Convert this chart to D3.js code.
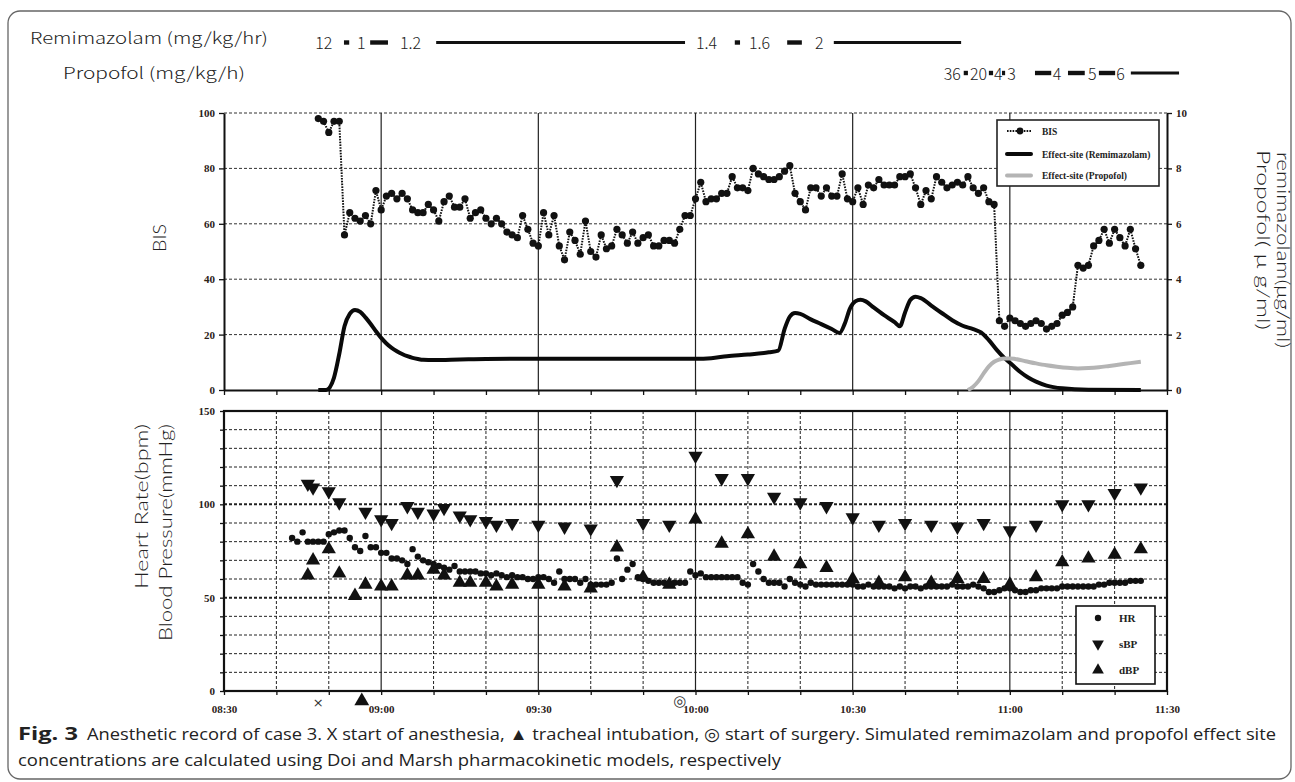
<!DOCTYPE html>
<html lang="en">
<head>
<meta charset="UTF-8">
<title>Anesthetic record of case 3</title>
<script src="https://d3js.org/d3.v7.min.js"></script>
<style>
  body { margin: 0; background: #fff; }
  svg { display: block; }
  .tick text { font-family: "Liberation Serif", "Times New Roman", serif; font-weight: bold; font-size: 11px; fill: #2b2118; }
  .axis-title { font-family: Lato, "Noto Sans", sans-serif; font-weight: 300; font-size: 18px; fill: #222; }
  .dose { font-family: "Noto Sans CJK JP", "Noto Sans", sans-serif; font-weight: 300; font-size: 16px; fill: #222; }
  .legend text { font-family: "Liberation Serif", "Times New Roman", serif; font-weight: bold; fill: #222; }
  .caption { font-family: "Open Sans", "Noto Sans", sans-serif; font-size: 17px; fill: #222; }
</style>
</head>
<body>
<svg width="1295" height="782"></svg>
<script>
// all times are minutes after 08:30
const timeLabels = ["08:30", "09:00", "09:30", "10:00", "10:30", "11:00", "11:30"];
const bisTicks = [0, 20, 40, 60, 80, 100];
const concTicks = [0, 2, 4, 6, 8, 10];
const bpLabelTicks = [0, 50, 100, 150];

// BIS, one reading per minute starting 08:48
const bisStart = 18;
const bisValues = [
  98, 97, 93, 97, 97, 56, 64, 62, 61, 63,
  60, 72, 65, 70, 71, 69, 71, 69, 65, 64,
  64, 67, 65, 61, 68, 70, 66, 66, 69, 62,
  64, 65, 62, 60, 62, 60, 57, 56, 55, 63,
  58, 53, 52, 64, 56, 63, 52, 47, 57, 54,
  49, 61, 50, 48, 56, 51, 52, 58, 56, 53,
  57, 53, 55, 56, 52, 52, 54, 54, 53, 58,
  63, 63, 69, 75, 68, 69, 69, 71, 71, 77,
  73, 73, 72, 80, 78, 77, 76, 76, 77, 79,
  81, 71, 68, 65, 73, 73, 70, 73, 70, 70,
  78, 69, 68, 73, 67, 74, 73, 76, 74, 74,
  74, 77, 77, 78, 73, 67, 72, 69, 77, 75,
  73, 74, 75, 74, 77, 73, 71, 73, 68, 67,
  25, 23, 26, 25, 24, 23, 24, 25, 24, 22,
  23, 24, 27, 28, 30, 45, 44, 45, 52, 54,
  58, 53, 58, 55, 52, 58, 51, 45
];

// simulated effect-site concentrations [minute, ug/ml]
const remiEffect = [
  [18, 0], [19.5, 0], [21, 0.45], [22, 1.3], [23, 2.3], [24, 2.75], [25, 2.89], [26, 2.82],
  [27, 2.62], [28, 2.38], [29, 2.12], [30, 1.88], [31, 1.68], [32, 1.52], [33, 1.4], [34, 1.3],
  [35, 1.22], [36, 1.16], [37, 1.12], [38, 1.09], [40, 1.08], [45, 1.1], [50, 1.12], [60, 1.13],
  [90, 1.13], [93, 1.15], [96, 1.22], [100, 1.28], [104, 1.36], [105.8, 1.42], [107, 2.2],
  [108, 2.65], [109, 2.78], [110, 2.75], [112, 2.55], [114, 2.38], [116, 2.2], [117.5, 2.06],
  [118.5, 2.4], [119.5, 2.95], [120.5, 3.2], [121.5, 3.26], [122.5, 3.2], [124, 2.98], [126, 2.7],
  [128, 2.45], [129, 2.3], [130, 2.8], [131, 3.25], [132, 3.37], [133, 3.32], [135, 3.05],
  [137, 2.78], [139, 2.52], [141, 2.32], [143, 2.2], [144.5, 2.08], [146, 1.8], [147.5, 1.45],
  [149, 1.15], [150.5, 0.9], [152, 0.65], [153.5, 0.45], [155, 0.3], [157, 0.16], [160, 0.06],
  [165, 0.01], [175, 0]
];
const propEffect = [
  [142, 0], [143, 0.12], [144, 0.32], [145, 0.6], [146, 0.85], [147, 1.02], [148, 1.1],
  [149, 1.14], [150, 1.14], [151, 1.12], [153, 1.04], [155, 0.96], [157, 0.89], [159, 0.84],
  [161, 0.8], [163, 0.78], [165, 0.79], [167, 0.82], [169, 0.87], [171, 0.92], [173, 0.97],
  [175, 1.02]
];

// heart rate, one reading per minute starting 08:43
const hrStart = 13;
const hrValues = [
  82, 80, 85, 80, 80, 80, 80, 84, 85, 86,
  86, 82, 77, 75, 83, 77, 77, 74, 74, 71,
  71, 70, 68, 76, 72, 70, 69, 68, 67, 66,
  65, 67, 64, 64, 64, 64, 63, 63, 62, 63,
  62, 61, 62, 61, 61, 60, 60, 61, 61, 60,
  58, 64, 60, 60, 60, 58, 60, 57, 57, 57,
  57, 58, 71, 60, 65, 68, 61, 60, 59, 58,
  58, 58, 57, 58, 58, 58, 64, 62, 63, 61,
  61, 61, 61, 61, 61, 61, 58, 57, 68, 64,
  60, 58, 58, 58, 56, 60, 58, 57, 56, 58,
  57, 57, 57, 57, 57, 57, 57, 57, 56, 56,
  57, 56, 56, 56, 56, 55, 56, 55, 56, 56,
  55, 56, 56, 56, 56, 56, 57, 56, 56, 56,
  57, 56, 55, 53, 53, 54, 55, 55, 54, 53,
  53, 54, 54, 55, 55, 55, 55, 56, 56, 56,
  56, 56, 56, 56, 57, 57, 58, 58, 58, 58,
  59, 59, 59
];

// blood pressure [minute, mmHg]
const sbp = [
  [16, 111], [17, 109], [20, 107], [22, 101], [27, 96], [30, 92], [32, 90], [35, 99], [37, 96],
  [40, 95], [42, 98], [45, 94], [47, 92], [50, 91], [52, 89], [55, 90], [60, 89], [65, 88],
  [70, 87], [75, 113], [80, 90], [85, 89], [90, 126], [95, 114], [100, 114], [105, 104],
  [110, 101], [115, 99], [120, 93], [125, 89], [130, 90], [135, 89], [140, 88], [145, 90],
  [150, 86], [155, 89], [160, 100], [165, 100], [170, 106], [175, 109]
];
const dbp = [
  [16, 62], [17, 70], [20, 76], [22, 63], [25, 51], [27, 57], [30, 56], [32, 56], [35, 62],
  [37, 62], [40, 65], [42, 62], [45, 58], [47, 58], [50, 58], [52, 56], [55, 57], [60, 57],
  [65, 56], [70, 55], [75, 77], [80, 61], [85, 57], [90, 92], [95, 79], [100, 84], [105, 72],
  [110, 68], [115, 66], [120, 60], [125, 58], [130, 61], [135, 58], [140, 60], [145, 60],
  [150, 57], [155, 61], [160, 69], [165, 71], [170, 73], [175, 76]
];

// events under the time axis
const events = [[18, "start"], [26.3, "intubation"], [87, "surgery"]];

// infusion rates written above the chart: [minute, label] and bars [from, to]
const remiDoseLabels = [[17.4, "12"], [25.4, "1"], [33.6, "1.2"], [90.1, "1.4"], [100.2, "1.6"], [112.8, "2"]];
const remiDoseBars = [[22.9, 23.9], [27.9, 31.3], [40.5, 88], [97.5, 98.5], [107.5, 110.3], [116.4, 140.7]];
const propDoseLabels = [[137.4, "36"], [142.4, "20"], [147.0, "4"], [149.5, "3"], [158.2, "4"], [164.9, "5"], [170.3, "6"]];
const propDoseBars = [[141.2, 142.0], [146.0, 146.8], [148.5, 149.1], [154.8, 157.9], [161.1, 164.3], [167.0, 170.1], [173.1, 182.3]];

const svg = d3.select("svg");

const x = d3.scaleLinear().domain([0, 180]).range([224, 1167]);
const yBis = d3.scaleLinear().domain([0, 100]).range([390, 113]);
const yConc = d3.scaleLinear().domain([0, 10]).range([390, 113]);
const yBp = d3.scaleLinear().domain([0, 150]).range([691, 411]);

const minorTimes = d3.range(0, 181, 10);
const majorTimes = d3.range(0, 181, 30);

// outer frame
svg.append("rect")
  .attr("x", 8).attr("y", 11).attr("width", 1283).attr("height", 768)
  .attr("rx", 12).attr("fill", "none").attr("stroke", "#666").attr("stroke-width", 1.3);

// ---------- dosing header ----------
svg.append("text").attr("class", "dose").attr("x", 30).attr("y", 44)
  .attr("font-size", 18).attr("textLength", 238).attr("lengthAdjust", "spacingAndGlyphs")
  .text("Remimazolam (mg/kg/hr)");
svg.append("text").attr("class", "dose").attr("x", 63).attr("y", 79)
  .attr("font-size", 18).attr("textLength", 182).attr("lengthAdjust", "spacingAndGlyphs")
  .text("Propofol (mg/kg/h)");

function doseRow(labels, bars, yText, yBar) {
  svg.append("g").selectAll("text").data(labels).join("text")
    .attr("class", "dose")
    .attr("x", d => x(d[0])).attr("y", yText)
    .text(d => d[1]);
  svg.append("g").selectAll("rect").data(bars).join("rect")
    .attr("x", d => x(d[0]))
    .attr("width", d => x(d[1]) - x(d[0]))
    .attr("y", d => yBar - ((x(d[1]) - x(d[0])) > 25 ? 1.5 : 2.2))
    .attr("height", d => (x(d[1]) - x(d[0])) > 25 ? 3 : 4.4)
    .attr("fill", "#111");
}
doseRow(remiDoseLabels, remiDoseBars, 49, 42.5);
doseRow(propDoseLabels, propDoseBars, 80, 73);

// ---------- upper panel: BIS and effect-site ----------
const upper = svg.append("g");

upper.append("g").selectAll("line").data(bisTicks.filter(v => v > 0)).join("line")
  .attr("x1", x(0)).attr("x2", x(180))
  .attr("y1", d => yBis(d)).attr("y2", d => yBis(d))
  .attr("stroke", "#333").attr("stroke-width", 1).attr("stroke-dasharray", "3,2");

upper.append("g").selectAll("line").data(majorTimes.slice(1, -1)).join("line")
  .attr("x1", d => x(d)).attr("x2", d => x(d))
  .attr("y1", yBis(100)).attr("y2", yBis(0))
  .attr("stroke", "#222").attr("stroke-width", 1.2);

const axUpL = upper.append("g").attr("transform", `translate(${x(0)},0)`)
  .call(d3.axisLeft(yBis).tickValues(bisTicks).tickSize(5).tickSizeOuter(0).tickPadding(4));
const axUpR = upper.append("g").attr("transform", `translate(${x(180)},0)`)
  .call(d3.axisRight(yConc).tickValues(concTicks).tickSize(5).tickSizeOuter(0).tickPadding(4));
const axUpB = upper.append("g").attr("transform", `translate(0,${yBis(0)})`)
  .call(d3.axisBottom(x).tickValues(minorTimes).tickSize(5).tickSizeOuter(0).tickFormat(""));
[axUpL, axUpR, axUpB].forEach(a => {
  a.select(".domain").attr("stroke", "#111").attr("stroke-width", 2);
  a.selectAll(".tick line").attr("stroke", "#111").attr("stroke-width", 1.3);
});

const concLine = d3.line().x(d => x(d[0])).y(d => yConc(d[1])).curve(d3.curveMonotoneX);
upper.append("path").datum(remiEffect).attr("d", concLine)
  .attr("fill", "none").attr("stroke", "#0a0a0a").attr("stroke-width", 4);
upper.append("path").datum(propEffect).attr("d", concLine)
  .attr("fill", "none").attr("stroke", "#b4b4b4").attr("stroke-width", 4);

const bisData = bisValues.map((v, i) => [bisStart + i, v]);
upper.append("path").datum(bisData)
  .attr("d", d3.line().x(d => x(d[0])).y(d => yBis(d[1])))
  .attr("fill", "none").attr("stroke", "#111").attr("stroke-width", 2).attr("stroke-dasharray", "1.6,1.2");
upper.append("g").selectAll("circle").data(bisData).join("circle")
  .attr("cx", d => x(d[0])).attr("cy", d => yBis(d[1])).attr("r", 3.6).attr("fill", "#111");

// legend (upper)
const lgUp = svg.append("g").attr("class", "legend");
lgUp.append("rect").attr("x", 997).attr("y", 120).attr("width", 162).attr("height", 66)
  .attr("fill", "#fff").attr("stroke", "#222").attr("stroke-width", 1.6);
lgUp.append("line").attr("x1", 1007).attr("x2", 1031).attr("y1", 131).attr("y2", 131)
  .attr("stroke", "#111").attr("stroke-width", 2).attr("stroke-dasharray", "1.6,1.2");
lgUp.append("circle").attr("cx", 1020).attr("cy", 131).attr("r", 3.4).attr("fill", "#111");
lgUp.append("line").attr("x1", 1007).attr("x2", 1031).attr("y1", 154).attr("y2", 154)
  .attr("stroke", "#0a0a0a").attr("stroke-width", 4).attr("stroke-linecap", "round");
lgUp.append("line").attr("x1", 1007).attr("x2", 1031).attr("y1", 175.5).attr("y2", 175.5)
  .attr("stroke", "#b4b4b4").attr("stroke-width", 4).attr("stroke-linecap", "round");
[["BIS", 134.5], ["Effect-site (Remimazolam)", 157.5], ["Effect-site (Propofol)", 179]].forEach(([t, yy]) => {
  lgUp.append("text").attr("x", 1042).attr("y", yy).attr("font-size", 9.5).text(t);
});

// ---------- lower panel: HR and BP ----------
const lower = svg.append("g");

lower.append("g").selectAll("line").data(d3.range(10, 150, 10)).join("line")
  .attr("x1", x(0)).attr("x2", x(180))
  .attr("y1", d => yBp(d)).attr("y2", d => yBp(d))
  .attr("stroke", "#222").attr("stroke-width", d => d % 50 === 0 ? 2 : 1)
  .attr("stroke-dasharray", "3,2");

lower.append("g").selectAll("line").data(minorTimes.filter(t => t % 30 !== 0)).join("line")
  .attr("x1", d => x(d)).attr("x2", d => x(d))
  .attr("y1", yBp(150)).attr("y2", yBp(0))
  .attr("stroke", "#222").attr("stroke-width", 1).attr("stroke-dasharray", "3,2");

lower.append("g").selectAll("line").data(majorTimes.slice(1, -1)).join("line")
  .attr("x1", d => x(d)).attr("x2", d => x(d))
  .attr("y1", yBp(150)).attr("y2", yBp(0))
  .attr("stroke", "#222").attr("stroke-width", 1.2);

const axLoL = lower.append("g").attr("transform", `translate(${x(0)},0)`)
  .call(d3.axisLeft(yBp).tickValues(d3.range(0, 151, 10)).tickSize(4).tickSizeOuter(0).tickPadding(5)
    .tickFormat(v => bpLabelTicks.includes(v) ? v : ""));
const axLoB = lower.append("g").attr("transform", `translate(0,${yBp(0)})`)
  .call(d3.axisBottom(x).tickValues(minorTimes).tickSize(4).tickSizeOuter(0).tickPadding(10)
    .tickFormat(t => t % 30 === 0 ? timeLabels[t / 30] : ""));
[axLoL, axLoB].forEach(a => {
  a.select(".domain").attr("stroke", "none");
  a.selectAll(".tick line").attr("stroke", "#111").attr("stroke-width", 1.3);
});

lower.append("rect")
  .attr("x", x(0)).attr("y", yBp(150))
  .attr("width", x(180) - x(0)).attr("height", yBp(0) - yBp(150))
  .attr("fill", "none").attr("stroke", "#111").attr("stroke-width", 2.2);

const tri = d3.symbol(d3.symbolTriangle, 88);
const triSmall = d3.symbol(d3.symbolTriangle, 60);

lower.append("g").selectAll("circle").data(hrValues.map((v, i) => [hrStart + i, v])).join("circle")
  .attr("cx", d => x(d[0])).attr("cy", d => yBp(d[1])).attr("r", 3.2).attr("fill", "#111");
lower.append("g").selectAll("path").data(sbp).join("path")
  .attr("d", tri).attr("fill", "#111")
  .attr("transform", d => `translate(${x(d[0])},${yBp(d[1])}) rotate(180)`);
lower.append("g").selectAll("path").data(dbp).join("path")
  .attr("d", tri).attr("fill", "#111")
  .attr("transform", d => `translate(${x(d[0])},${yBp(d[1])})`);

// legend (lower)
const lgLo = svg.append("g").attr("class", "legend");
lgLo.append("rect").attr("x", 1076).attr("y", 606).attr("width", 79).attr("height", 78)
  .attr("fill", "#fff").attr("stroke", "#111").attr("stroke-width", 1.6);
lgLo.append("circle").attr("cx", 1098).attr("cy", 618).attr("r", 3.2).attr("fill", "#111");
lgLo.append("path").attr("d", triSmall).attr("fill", "#111").attr("transform", "translate(1098,644) rotate(180)");
lgLo.append("path").attr("d", triSmall).attr("fill", "#111").attr("transform", "translate(1098,670)");
[["HR", 622], ["sBP", 648], ["dBP", 674]].forEach(([t, yy]) => {
  lgLo.append("text").attr("x", 1119).attr("y", yy).attr("font-size", 11).text(t);
});

// event marks under the time axis
events.forEach(([t, kind]) => {
  if (kind === "start") {
    svg.append("text").attr("x", x(t)).attr("y", 707).attr("text-anchor", "middle")
      .attr("font-family", "DejaVu Sans, sans-serif").attr("font-size", 13).attr("fill", "#333").text("×");
  } else if (kind === "intubation") {
    svg.append("path").attr("d", d3.symbol(d3.symbolTriangle, 95)).attr("fill", "#111")
      .attr("transform", `translate(${x(t)},701)`);
  } else {
    svg.append("text").attr("x", x(t)).attr("y", 706).attr("text-anchor", "middle")
      .attr("font-family", "DejaVu Sans, sans-serif").attr("font-size", 15).attr("fill", "#333").text("◎");
  }
});

// ---------- axis titles ----------
function title(tx, ty, angle, anchor, len, txt) {
  svg.append("text").attr("class", "axis-title")
    .attr("transform", `translate(${tx},${ty}) rotate(${angle})`)
    .attr("text-anchor", anchor)
    .attr("textLength", len).attr("lengthAdjust", "spacingAndGlyphs")
    .text(txt);
}
title(166, 238, -90, "middle", 28, "BIS");
title(148, 424, -90, "end", 165, "Heart Rate(bpm)");
title(172, 424, -90, "end", 217, "Blood Pressure(mmHg)");
title(1257, 150, 90, "start", 180, "Propofol( μ g/ml)");
title(1277, 152, 90, "start", 196, "remimazolam(μg/ml)");

// ---------- caption ----------
svg.append("text").attr("class", "caption").attr("x", 18).attr("y", 740)
  .attr("font-weight", "bold").attr("textLength", 60).attr("lengthAdjust", "spacingAndGlyphs").text("Fig. 3");
svg.append("text").attr("class", "caption").attr("x", 87).attr("y", 740)
  .attr("textLength", 1189).attr("lengthAdjust", "spacingAndGlyphs")
  .text("Anesthetic record of case 3. X start of anesthesia, ▲ tracheal intubation, ◎ start of surgery. Simulated remimazolam and propofol effect site");
svg.append("text").attr("class", "caption").attr("x", 18).attr("y", 766)
  .attr("textLength", 763).attr("lengthAdjust", "spacingAndGlyphs")
  .text("concentrations are calculated using Doi and Marsh pharmacokinetic models, respectively");
</script>
</body>
</html>
